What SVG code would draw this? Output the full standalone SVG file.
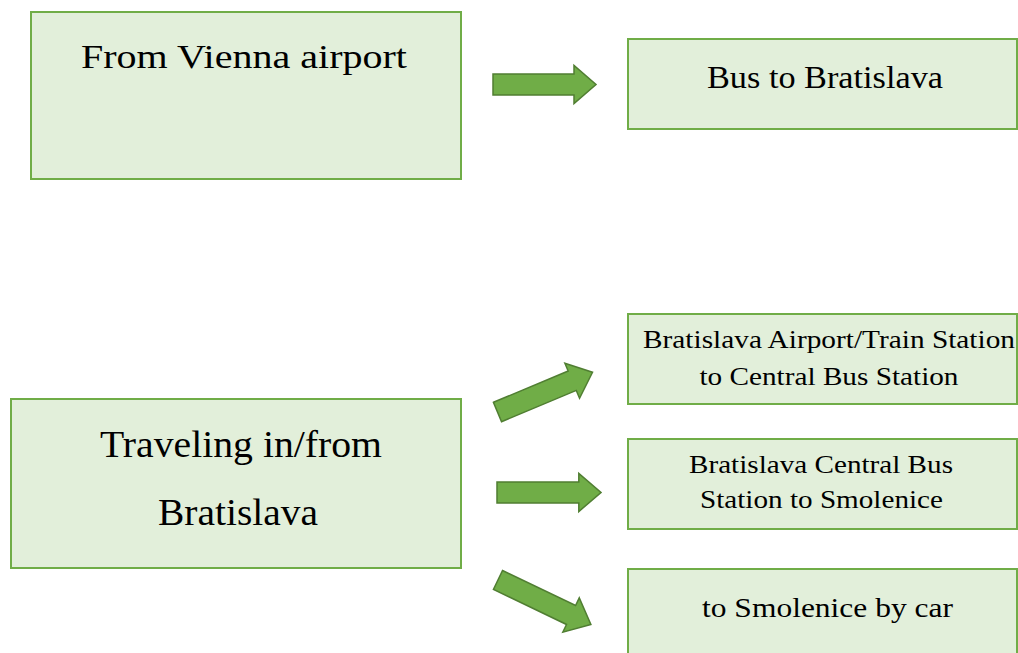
<svg xmlns="http://www.w3.org/2000/svg" xmlns:xlink="http://www.w3.org/1999/xlink" width="1018" height="653" viewBox="0 0 1018 653">
<style>
.box{fill:#e2efda;stroke:#70ad47;stroke-width:2}
.arr{fill:#70ad47;stroke:#507e32;stroke-width:1.5}
text{font-family:"Liberation Serif","Times New Roman",serif;fill:#000;text-anchor:middle}
</style>
<defs>
<path id="arrow" d="M0,-10.5 H81 V-19 L103,0 L81,19 V10.5 H0 Z"/>
</defs>
<rect width="1018" height="653" fill="#fff"/>
<g id="vienna">
<rect class="box" x="31" y="12" width="430" height="167"/>
<text x="244" y="68" font-size="33" textLength="326" lengthAdjust="spacingAndGlyphs">From Vienna airport</text>
</g>
<g id="bus">
<rect class="box" x="628" y="39" width="389" height="90"/>
<text x="825" y="88" font-size="31" textLength="236" lengthAdjust="spacingAndGlyphs">Bus to Bratislava</text>
</g>
<g id="traveling">
<rect class="box" x="11" y="399" width="450" height="169"/>
<text x="241" y="457" font-size="38" textLength="282" lengthAdjust="spacingAndGlyphs">Traveling in/from</text>
<text x="238" y="525" font-size="38" textLength="160" lengthAdjust="spacingAndGlyphs">Bratislava</text>
</g>
<g id="airport">
<rect class="box" x="628" y="314" width="389" height="90"/>
<text x="829" y="348" font-size="25" textLength="372" lengthAdjust="spacingAndGlyphs">Bratislava Airport/Train Station</text>
<text x="829" y="385" font-size="25" textLength="259" lengthAdjust="spacingAndGlyphs">to Central Bus Station</text>
</g>
<g id="central">
<rect class="box" x="628" y="439" width="389" height="90"/>
<text x="821" y="473" font-size="25" textLength="264" lengthAdjust="spacingAndGlyphs">Bratislava Central Bus</text>
<text x="821.5" y="508" font-size="25" textLength="243" lengthAdjust="spacingAndGlyphs">Station to Smolenice</text>
</g>
<g id="car">
<rect class="box" x="628" y="569" width="389" height="95"/>
<text x="827.5" y="617" font-size="27" textLength="251" lengthAdjust="spacingAndGlyphs">to Smolenice by car</text>
</g>
<g id="connectors">
<use xlink:href="#arrow" class="arr" transform="translate(493,84.5)"/>
<use xlink:href="#arrow" class="arr" transform="translate(497.5,412) rotate(-22.7)"/>
<use xlink:href="#arrow" class="arr" transform="translate(497,492.5) scale(1.01,1)"/>
<use xlink:href="#arrow" class="arr" transform="translate(498,580) rotate(25.6)"/>
</g>
</svg>
